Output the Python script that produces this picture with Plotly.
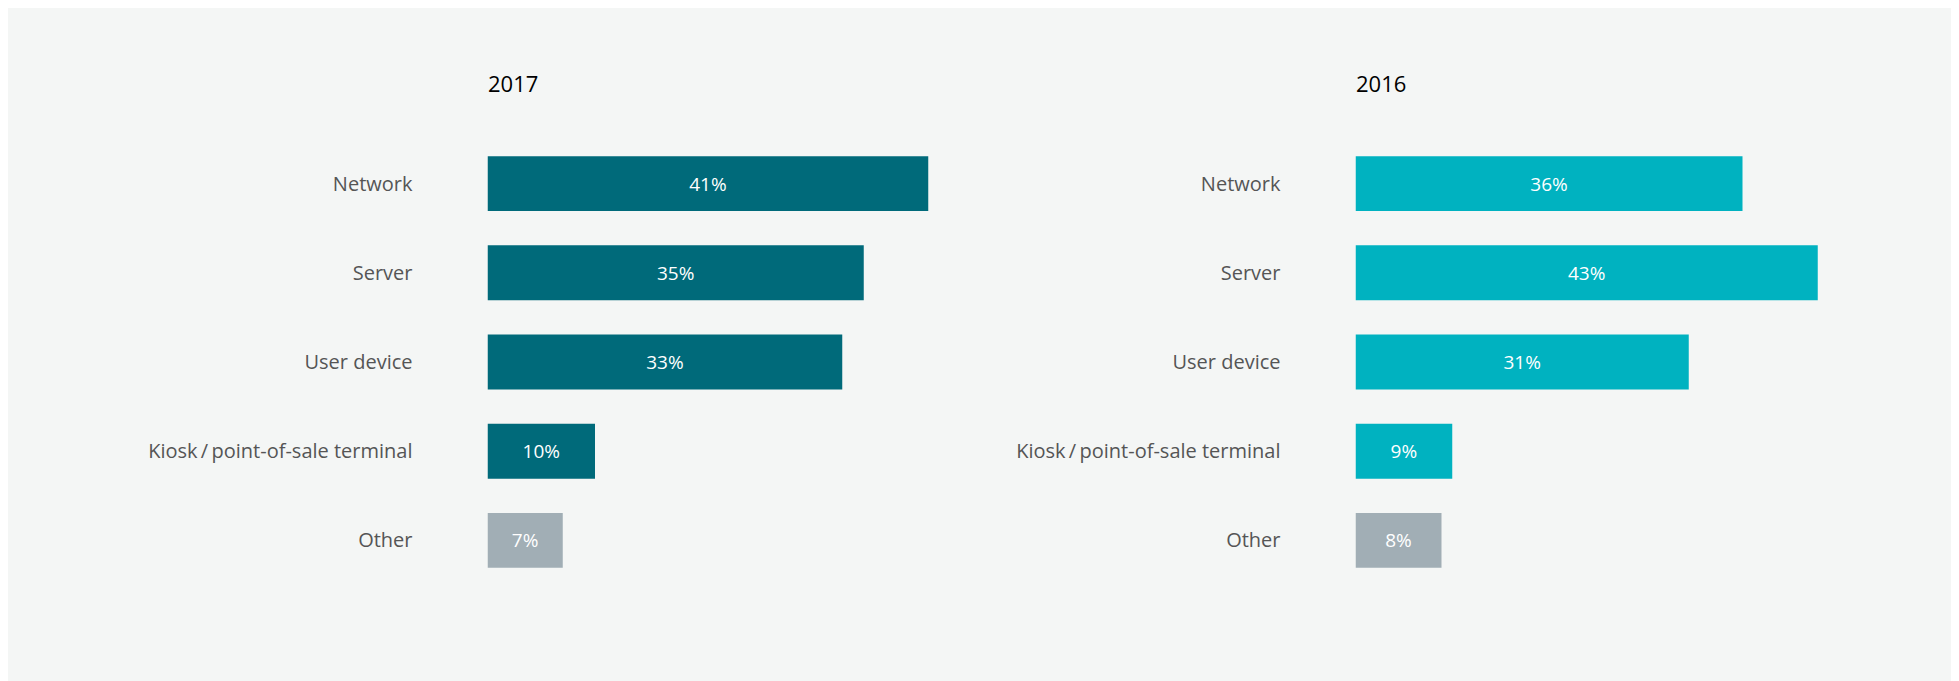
import plotly.graph_objects as go
from plotly.subplots import make_subplots

categories = ["Network", "Server", "User device", "Kiosk\u2009/\u2009point-of-sale terminal", "Other"]
values_2017 = [41, 35, 33, 10, 7]
values_2016 = [36, 43, 31, 9, 8]
years = ["2017", "2016"]

W, H = 1943, 673
FONT = "Open Sans"
colors_2017 = ["#006a7a"] * 4 + ["#a1aeb5"]
colors_2016 = ["#00b2c0"] * 4 + ["#a1aeb5"]

fig = make_subplots(rows=1, cols=2, horizontal_spacing=0.05)

for i, (vals, cols) in enumerate([(values_2017, colors_2017), (values_2016, colors_2016)], start=1):
    fig.add_trace(go.Bar(
        x=vals, y=categories, orientation="h",
        marker=dict(color=cols, line=dict(width=0)),
        texttemplate="%{x}%", textposition="inside", insidetextanchor="middle",
        textangle=0,
        textfont=dict(family=FONT, size=19, color="white"),
        hoverinfo="skip", showlegend=False,
    ), row=1, col=i)

x_start = [479.5, 1347.5]
px_per_pct = 10.75
x_span = 50
y_top, y_bot = 131.0, 577.0

for i in range(2):
    ax = "xaxis" if i == 0 else "xaxis2"
    ay = "yaxis" if i == 0 else "yaxis2"
    d0 = x_start[i] / W
    d1 = (x_start[i] + px_per_pct * x_span) / W
    fig.layout[ax].update(domain=[d0, d1], range=[0, x_span], visible=False, fixedrange=True)
    fig.layout[ay].update(
        domain=[1 - y_bot / H, 1 - y_top / H],
        range=[4.5, -0.5], showgrid=False, zeroline=False, showline=False,
        ticks="outside", ticklen=70, tickcolor="rgba(0,0,0,0)",
        tickfont=dict(family=FONT, size=20, color="#555555"),
        fixedrange=True,
    )
    fig.add_annotation(
        text=years[i], xref="paper", yref="paper",
        x=x_start[i] / W - 0.0008, y=1 - 74.5 / H, xanchor="left", yanchor="middle",
        showarrow=False, font=dict(family=FONT, size=22, color="#000000", weight=500),
    )

fig.update_layout(
    width=W, height=H,
    margin=dict(l=0, r=0, t=0, b=0),
    paper_bgcolor="#f4f6f5", plot_bgcolor="rgba(0,0,0,0)",
    bargap=0.384,
    font=dict(family=FONT),
)

fig.write_html("out.html")
